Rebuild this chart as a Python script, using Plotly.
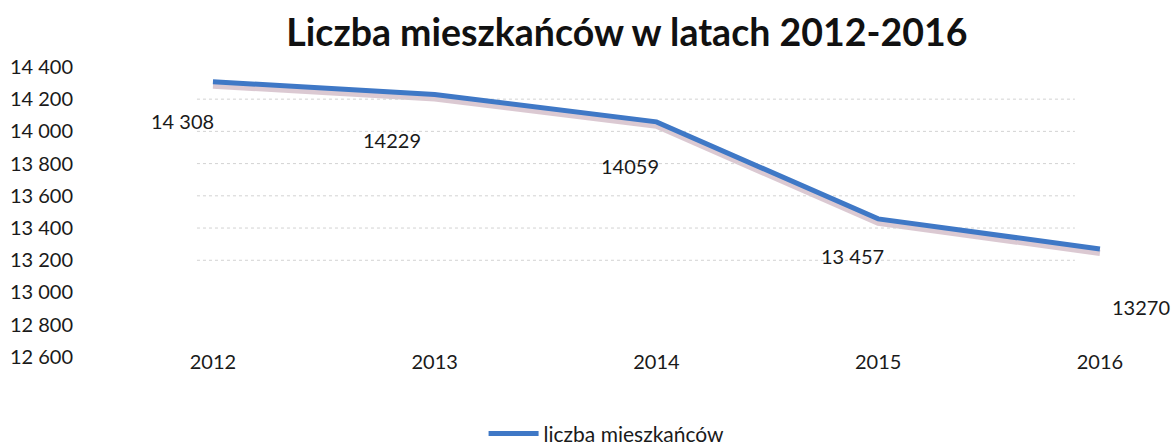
import plotly.graph_objects as go

years = [2012, 2013, 2014, 2015, 2016]
residents = [14308, 14229, 14059, 13457, 13270]
point_labels = ["14 308", "14229", "14059", "13 457", "13270"]
label_dx = [-30, -43, -26, -26, 41]
label_dy = [-39, -46, -44, -37, -58]
y_ticks = [12600, 12800, 13000, 13200, 13400, 13600, 13800, 14000, 14200, 14400]
y_tick_text = ["12 600", "12 800", "13 000", "13 200", "13 400", "13 600", "13 800", "14 000", "14 200", "14 400"]
grid_values = [13200, 13400, 13600, 13800, 14000, 14200]

FONT = "Lato, 'Open Sans', sans-serif"
Y_RANGE = [12581, 14474]
X_RANGE = [2011.423, 2016.334]
SHIFT = 0.01294

fig = go.Figure()

# shadow of the line (lower, hidden axis drawn first)
fig.add_trace(go.Scatter(
    x=years, y=residents, mode="lines", yaxis="y",
    line=dict(color="rgba(195,165,180,0.6)", width=6),
    showlegend=False, hoverinfo="skip"))

fig.add_trace(go.Scatter(
    x=years, y=residents, mode="lines", yaxis="y2", name="liczba mieszkańców",
    line=dict(color="#3f78c6", width=5)))

for xv, yv, txt, dx, dy in zip(years, residents, point_labels, label_dx, label_dy):
    fig.add_annotation(x=xv, y=yv, xref="x", yref="y2", text=txt, showarrow=False,
                       xshift=dx, yshift=dy, font=dict(family=FONT, size=20, color="#1a1a1a"))

for g in grid_values:
    fig.add_shape(type="line", xref="x", yref="y2", x0=2011.928, x1=2015.887, y0=g, y1=g,
                  line=dict(color="#d2d2d2", width=1, dash="dot"), layer="below")

fig.update_layout(
    width=1174, height=448,
    margin=dict(l=85, r=0, t=55, b=84, autoexpand=False),
    paper_bgcolor="white", plot_bgcolor="rgba(0,0,0,0)",
    title=dict(text="<b>Liczba mieszkańców w latach 2012-2016</b>", x=0.534, xanchor="center",
               y=0.927, yanchor="middle", font=dict(family=FONT, size=37.5, color="#111111")),
    font=dict(family=FONT, color="#1a1a1a"),
    xaxis=dict(range=X_RANGE, anchor="y2", tickmode="array", tickvals=years,
               ticktext=[str(y) for y in years],
               showgrid=False, zeroline=False, showline=False, ticks="",
               ticklabelstandoff=-12, tickfont=dict(size=20, family=FONT, color="#1a1a1a")),
    yaxis=dict(range=Y_RANGE, domain=[0.0, 1.0 - SHIFT], visible=False),
    yaxis2=dict(range=Y_RANGE, domain=[SHIFT, 1.0], anchor="x", side="left",
                tickmode="array", tickvals=y_ticks, ticktext=y_tick_text,
                showgrid=False, zeroline=False, showline=False, ticks="",
                ticklabelstandoff=11, tickfont=dict(size=20, family=FONT, color="#1a1a1a")),
    legend=dict(orientation="h", x=0.366, xanchor="left", y=-0.226, yanchor="middle",
                font=dict(family=FONT, size=21, color="#1a1a1a"), itemwidth=50,
                bgcolor="rgba(0,0,0,0)"),
    showlegend=True,
)

fig.write_html("out.html", config={"displayModeBar": False},
               post_script="document.body.style.margin='0';document.body.style.overflow='hidden';")
